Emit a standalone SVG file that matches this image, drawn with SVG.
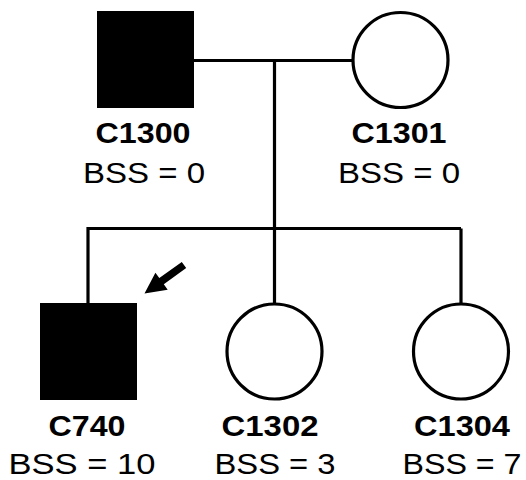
<svg xmlns="http://www.w3.org/2000/svg" width="526" height="480" viewBox="0 0 526 480">
<style>
.ln{stroke:#000;stroke-width:3.2;fill:none}
.aff{fill:#000}
.un{fill:#fff;stroke:#000;stroke-width:3.2}
.id{font-family:"Liberation Sans",Arial,sans-serif;font-weight:bold;font-size:29px;text-anchor:middle;fill:#000}
.bss{font-family:"Liberation Sans",Arial,sans-serif;font-size:30px;text-anchor:middle;fill:#000}
.bb{font-size:29px}
</style>
<rect width="526" height="480" fill="#fff"/>
<g id="connectors">
<path class="ln" d="M194 60.5H352M274.5 60.5V228.5M88 228.5H461M88 227V303M274.5 228.5V303M461 228.5V303"/>
</g>
<g id="C1300">
<rect class="aff" x="97" y="11" width="97" height="97"/>
<text class="id" x="143" y="143" textLength="95" lengthAdjust="spacingAndGlyphs">C1300</text>
<text class="bss" x="144" y="183" textLength="122" lengthAdjust="spacingAndGlyphs">BSS = 0</text>
</g>
<g id="C1301">
<circle class="un" cx="400.5" cy="60" r="47.5"/>
<text class="id" x="399" y="143" textLength="95" lengthAdjust="spacingAndGlyphs">C1301</text>
<text class="bss" x="399" y="183" textLength="122" lengthAdjust="spacingAndGlyphs">BSS = 0</text>
</g>
<g id="C740">
<rect class="aff" x="40" y="303" width="97" height="97"/>
<text class="id" x="87" y="436" textLength="77" lengthAdjust="spacingAndGlyphs">C740</text>
<text class="bss bb" x="82" y="474" textLength="147" lengthAdjust="spacingAndGlyphs">BSS = 10</text>
</g>
<g id="C1302">
<circle class="un" cx="274.5" cy="351.5" r="47.5"/>
<text class="id" x="270" y="436" textLength="97" lengthAdjust="spacingAndGlyphs">C1302</text>
<text class="bss bb" x="275" y="474" textLength="121" lengthAdjust="spacingAndGlyphs">BSS = 3</text>
</g>
<g id="C1304">
<circle class="un" cx="461" cy="351.5" r="47.5"/>
<text class="id" x="462" y="436" textLength="96" lengthAdjust="spacingAndGlyphs">C1304</text>
<text class="bss bb" x="462" y="474" textLength="119" lengthAdjust="spacingAndGlyphs">BSS = 7</text>
</g>
<g id="proband-arrow">
<polygon class="aff" points="181.8,261.9 159.3,278.1 155.4,272.7 144.5,293.5 167.7,289.7 163.8,284.3 186.2,268.1"/>
</g>
</svg>
